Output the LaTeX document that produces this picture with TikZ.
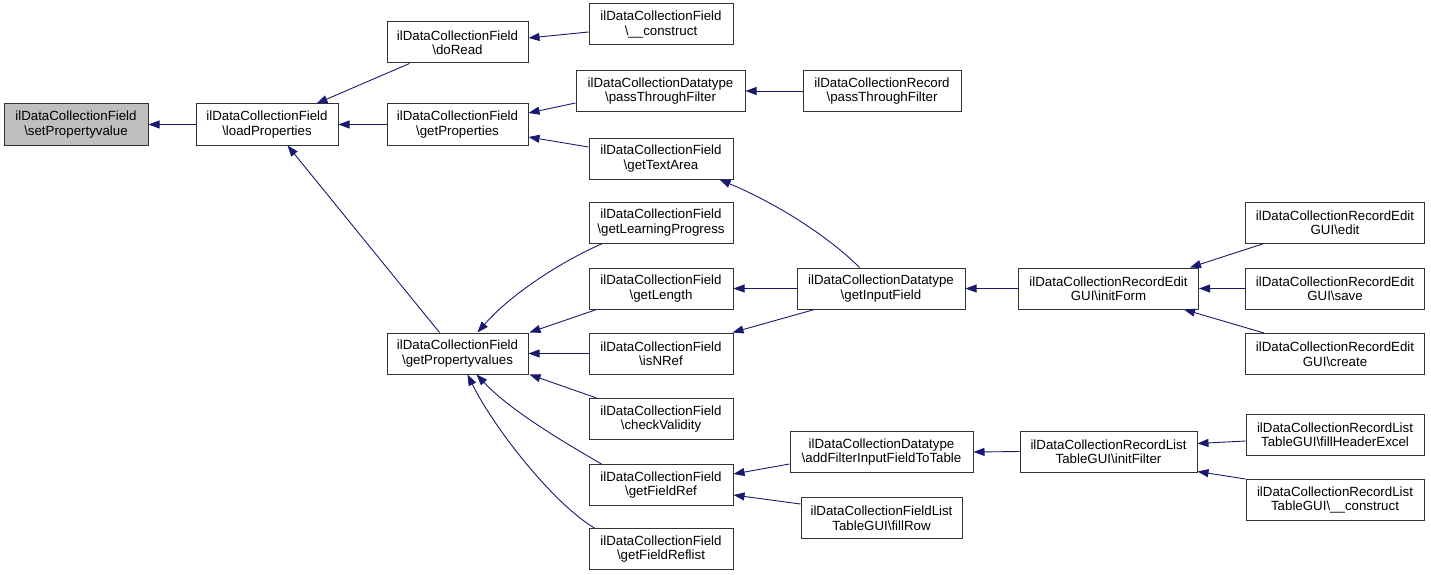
\documentclass[tikz,border=0pt]{standalone}
\usepackage{fontspec}
\setmainfont{Liberation Sans}
\usetikzlibrary{arrows.meta}
\definecolor{edgeblue}{HTML}{191970}
\definecolor{hilite}{HTML}{BFBFBF}
\tikzset{
  box/.style={draw=black!80, line width=1pt, fill=white, minimum height=41pt, inner sep=0pt, align=center,
    font=\fontsize{13.3}{14.5}\selectfont},
  edge/.style={draw=edgeblue, line width=0.9pt, -{Triangle[length=11pt,width=8pt]}},
}
\begin{document}
\begin{tikzpicture}[x=1pt,y=-1pt]
\useasboundingbox (0,0) rectangle (1431,575);
% nodes
\node[box, fill=hilite, minimum width=144pt] (spv) at (76,124.5) {ilDataCollectionField\\\textbackslash setPropertyvalue};
\node[box, minimum width=142pt] (lp) at (267,124.5) {ilDataCollectionField\\\textbackslash loadProperties};
\node[box, minimum width=141pt] (dr) at (457.5,42.5) {ilDataCollectionField\\\textbackslash doRead};
\node[box, minimum width=144pt] (con) at (661,24.5) {ilDataCollectionField\\\textbackslash\_\_construct};
\node[box, minimum width=141pt] (gp) at (457.5,124.5) {ilDataCollectionField\\\textbackslash getProperties};
\node[box, minimum width=169pt] (dtp) at (660.5,91) {ilDataCollectionDatatype\\\textbackslash passThroughFilter};
\node[box, minimum width=158pt] (rpt) at (882,91) {ilDataCollectionRecord\\\textbackslash passThroughFilter};
\node[box, minimum width=144pt] (gta) at (661,158.5) {ilDataCollectionField\\\textbackslash getTextArea};
\node[box, minimum width=144pt] (glp) at (661,222.5) {ilDataCollectionField\\\textbackslash getLearningProgress};
\node[box, minimum width=144pt] (gl) at (661,288.5) {ilDataCollectionField\\\textbackslash getLength};
\node[box, minimum width=168pt] (gif) at (881,288.5) {ilDataCollectionDatatype\\\textbackslash getInputField};
\node[box, minimum width=180pt] (inf) at (1108.5,288.5) {ilDataCollectionRecordEdit\\GUI\textbackslash initForm};
\node[box, minimum width=179pt] (edit) at (1335,222.5) {ilDataCollectionRecordEdit\\GUI\textbackslash edit};
\node[box, minimum width=179pt] (save) at (1335,288.5) {ilDataCollectionRecordEdit\\GUI\textbackslash save};
\node[box, minimum width=179pt] (create) at (1335,354) {ilDataCollectionRecordEdit\\GUI\textbackslash create};
\node[box, minimum width=141pt] (gpv) at (457.5,353.5) {ilDataCollectionField\\\textbackslash getPropertyvalues};
\node[box, minimum width=144pt] (isn) at (661,353.5) {ilDataCollectionField\\\textbackslash isNRef};
\node[box, minimum width=144pt] (cv) at (661,419) {ilDataCollectionField\\\textbackslash checkValidity};
\node[box, minimum width=144pt] (gfr) at (661,485) {ilDataCollectionField\\\textbackslash getFieldRef};
\node[box, minimum width=183pt] (afi) at (881.5,452) {ilDataCollectionDatatype\\\textbackslash addFilterInputFieldToTable};
\node[box, minimum width=177pt] (ifl) at (1108.5,451.5) {ilDataCollectionRecordList\\TableGUI\textbackslash initFilter};
\node[box, minimum width=178pt] (fhe) at (1335,434.5) {ilDataCollectionRecordList\\TableGUI\textbackslash fillHeaderExcel};
\node[box, minimum width=178pt] (lc) at (1335,500) {ilDataCollectionRecordList\\TableGUI\textbackslash\_\_construct};
\node[box, minimum width=161pt] (fr) at (881.5,518) {ilDataCollectionFieldList\\TableGUI\textbackslash fillRow};
\node[box, minimum width=144pt] (gfrl) at (661,549) {ilDataCollectionField\\\textbackslash getFieldReflist};
% edges
\draw[edge] (lp.west) -- (spv.east);
\draw[edge] ([xshift=23pt]dr.south west) -- ([xshift=121pt]lp.north west);
\draw[edge] (gp.west) -- (lp.east);
\draw[edge] ([xshift=53pt]gpv.north west) -- ([xshift=92pt]lp.south west);
\draw[edge] ([yshift=-7.5pt]con.west) -- ([yshift=4.5pt]dr.east);
\draw[edge] ([yshift=-12pt]dtp.west) -- ([yshift=11.5pt]gp.east);
\draw[edge] ([yshift=11.5pt]gta.west) -- ([yshift=-12.5pt]gp.east);
\draw[edge] (rpt.west) -- (dtp.east);
\draw[edge] ([xshift=63pt]gif.north west) .. controls (830,238) and (780,205) .. ([xshift=131pt]gta.south west);
\draw[edge] ([xshift=14pt]glp.south west) .. controls (560,262) and (510,295) .. ([xshift=91pt]gpv.north west);
\draw[edge] ([xshift=8pt]gl.south west) -- ([xshift=1pt]gpv.north east);
\draw[edge] (isn.west) -- (gpv.east);
\draw[edge] ([xshift=8pt]cv.north west) -- ([xshift=1pt]gpv.south east);
\draw[edge] ([xshift=13pt]gfr.north west) .. controls (560,440) and (510,410) .. ([xshift=90pt]gpv.south west);
\draw[edge] ([xshift=6pt]gfrl.north west) .. controls (555,505) and (495,430) .. ([xshift=81pt]gpv.south west);
\draw[edge] (gif.west) -- (gl.east);
\draw[edge] ([xshift=18pt]gif.south west) -- ([xshift=-1pt]isn.north east);
\draw[edge] (inf.west) -- (gif.east);
\draw[edge] ([xshift=19pt]edit.south west) -- ([xshift=-9pt]inf.north east);
\draw[edge] (save.west) -- (inf.east);
\draw[edge] ([xshift=19pt]create.north west) -- ([xshift=-15pt]inf.south east);
\draw[edge] ([yshift=-12pt]afi.west) -- ([yshift=11pt]gfr.east);
\draw[edge] ([yshift=14pt]fr.west) -- ([yshift=-10pt]gfr.east);
\draw[edge] (ifl.west) -- (afi.east);
\draw[edge] ([yshift=-6.5pt]fhe.west) -- ([yshift=8pt]ifl.east);
\draw[edge] (lc.north west) -- ([yshift=1pt]ifl.south east);
\end{tikzpicture}
\end{document}
